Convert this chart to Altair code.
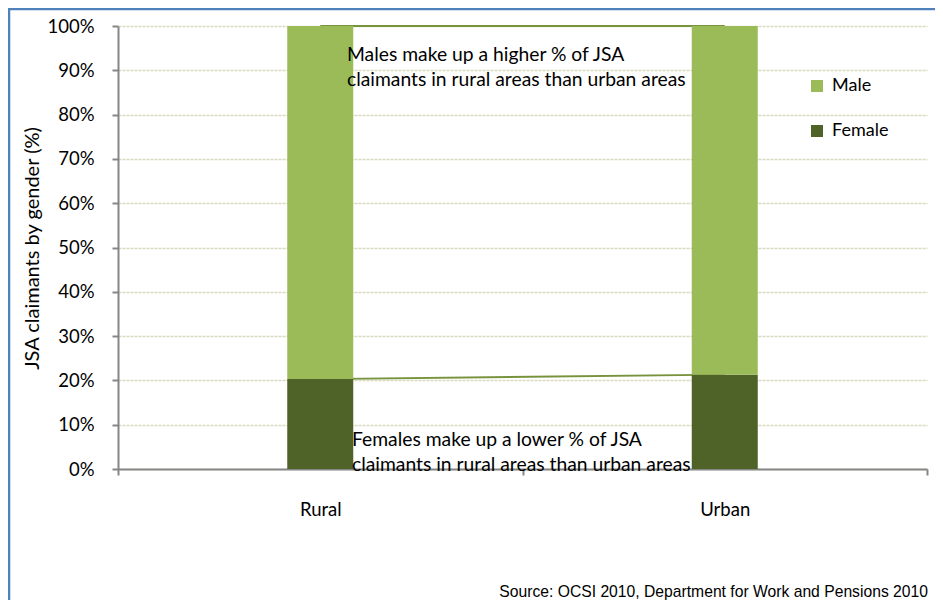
import altair as alt
import pandas as pd

areas = ["Rural", "Urban"]
genders = ["Male", "Female"]
female_pct = [20.3, 21.3]
male_pct = [79.7, 78.7]
y_ticks = [0, 10, 20, 30, 40, 50, 60, 70, 80, 90, 100]
male_note = "Males make up a higher % of JSA\nclaimants in rural areas than urban areas"
female_note = "Females make up a lower % of JSA\nclaimants in rural areas than urban areas"
source_note = "Source: OCSI 2010, Department for Work and Pensions 2010"

rows = []
for i, a in enumerate(areas):
    rows.append({"area": a, "gender": "Female", "value": female_pct[i], "ord": 0})
    rows.append({"area": a, "gender": "Male", "value": male_pct[i], "ord": 1})
df = pd.DataFrame(rows)

FONT = "Lato"
W, H = 809, 443

x_enc = alt.X(
    "area:N",
    sort=areas,
    scale=alt.Scale(paddingInner=0, paddingOuter=0),
    axis=alt.Axis(
        title=None,
        tickBand="extent",
        tickSize=6,
        tickWidth=2,
        tickColor="#868686",
        domainColor="#868686",
        domainWidth=2,
        labelFont=FONT,
        labelFontSize=18.5,
        labelColor="#000000",
        labelPadding=25,
        labelAngle=0,
        grid=False,
    ),
)
y_enc = alt.Y(
    "value:Q",
    stack="zero",
    scale=alt.Scale(domain=[0, 100], nice=False),
    axis=alt.Axis(
        title="JSA claimants by gender (%)",
        titleFont=FONT,
        titleFontSize=20,
        titleFontWeight="normal",
        titleColor="#000000",
        titleX=-86,
        titleY=222,
        titleAngle=-90,
        titleAlign="center",
        titleBaseline="middle",
        values=y_ticks,
        labelExpr="datum.value + '%'",
        labelFont=FONT,
        labelFontSize=18.5,
        labelColor="#000000",
        labelPadding=18,
        tickSize=6,
        tickWidth=2,
        tickColor="#868686",
        domainColor="#868686",
        domainWidth=2,
        grid=True,
        gridColor="#d9d9c0",
        gridDash=[3, 1],
        gridWidth=1.5,
    ),
)
color_enc = alt.Color(
    "gender:N",
    scale=alt.Scale(domain=genders, range=["#9BBB59", "#4F6228"]),
    legend=alt.Legend(
        title=None,
        orient="none",
        legendX=690,
        legendY=51,
        symbolType="square",
        symbolSize=144,
        symbolStrokeWidth=0,
        labelFont=FONT,
        labelFontSize=18,
        labelColor="#000000",
        labelOffset=6,
        rowPadding=27,
        padding=0,
    ),
)

base = alt.Chart(df)

lines = base.mark_line(color="#77933C", strokeWidth=1.8).encode(
    x=x_enc, y=y_enc, detail="gender:N", order=alt.Order("ord:Q")
)
bars = base.mark_bar(width={"band": 66 / 404.5}).encode(
    x=x_enc, y=y_enc, color=color_enc, order=alt.Order("ord:Q")
)

note_m = alt.Chart(pd.DataFrame({"t": [male_note]})).mark_text(
    align="left", baseline="middle", font=FONT, fontSize=19.3, lineBreak="\n", lineHeight=25, color="#000000"
).encode(x=alt.value(229), y=alt.value(29), text="t:N")
note_f = alt.Chart(pd.DataFrame({"t": [female_note]})).mark_text(
    align="left", baseline="middle", font=FONT, fontSize=19.3, lineBreak="\n", lineHeight=25, color="#000000"
).encode(x=alt.value(234), y=alt.value(414), text="t:N")
source = alt.Chart(pd.DataFrame({"t": [source_note]})).mark_text(
    align="right", baseline="alphabetic", font="Liberation Sans", fontSize=15.7, color="#000000"
).encode(x=alt.value(810), y=alt.value(571), text="t:N")

border_left = alt.Chart(pd.DataFrame({"k": [0]})).mark_rule(color="#4F81BD", strokeWidth=2.5).encode(
    x=alt.value(-109), y=alt.value(-18), y2=alt.value(574)
)
border_top = alt.Chart(pd.DataFrame({"k": [0]})).mark_rule(color="#4F81BD", strokeWidth=2.5).encode(
    x=alt.value(-110), x2=alt.value(817), y=alt.value(-17)
)

chart = alt.layer(lines, bars, note_m, note_f, source, border_left, border_top).properties(
    width=W,
    height=H,
    autosize=alt.AutoSizeParams(type="none"),
    padding={"left": 110, "top": 18, "right": 8, "bottom": 131},
    background="white",
).configure_view(stroke=None)

chart.save("out.html", embed_options={"renderer": "svg", "actions": False})
